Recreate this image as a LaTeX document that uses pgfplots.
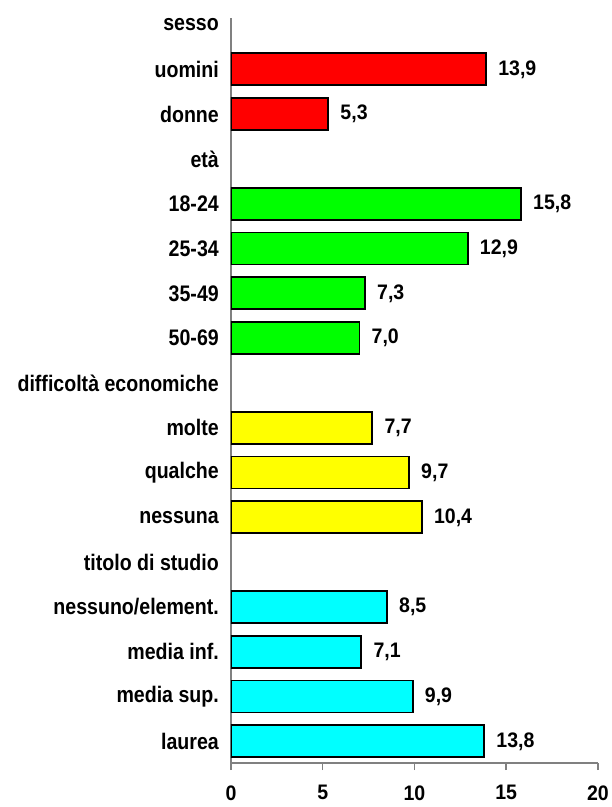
\documentclass[border=0pt]{standalone}
\usepackage{fontspec}
\setmainfont{Liberation Sans}
\newfontfamily\catfont{Liberation Sans}[FakeStretch=0.87]
\newfontfamily\numfont{Liberation Sans}[FakeStretch=0.93]
\usepackage{pgfplots}
\pgfplotsset{compat=1.18}
\definecolor{axgray}{RGB}{128,128,128}
\definecolor{cred}{RGB}{255,0,0}
\definecolor{cgreen}{RGB}{0,255,0}
\definecolor{cyellow}{RGB}{255,255,0}
\definecolor{ccyan}{RGB}{0,255,255}
\begin{document}
\begin{tikzpicture}
\begin{axis}[
  name=ax,
  scale only axis, width=367pt, height=745pt,
  xmin=0, xmax=20, ymin=-0.484, ymax=16.145,
  axis lines*=left,
  axis line style={draw=axgray, line width=1.5pt},
  xtick={0,5,10,15,20},
  tick align=outside,
  major tick length=7pt,
  xtick style={draw=axgray, line width=1.5pt},
  ytick={0,...,16},
  ytick style={draw=none},
  yticklabels={laurea, media sup., media inf., nessuno/element., titolo di studio, nessuna, qualche~, molte, difficoltà economiche, 50-69, 35-49, 25-34, 18-24, età, donne, uomini, sesso},
  yticklabel style={font=\catfont\bfseries\fontsize{22.5}{25}\selectfont, inner sep=0pt, xshift=-5pt},
  xticklabel style={font=\numfont\bfseries\fontsize{21}{23}\selectfont, yshift=-12pt},
  /pgf/number format/assume math mode=true,
  xbar, bar width=0.714,
  nodes near coords,
  nodes near coords style={font=\numfont\bfseries\fontsize{21}{23}\selectfont, black, anchor=west, xshift=8pt,
    /pgf/number format/.cd, fixed, fixed zerofill, precision=1, use comma},
  every axis plot/.append style={draw=black, line width=1.8pt},
]
\addplot[fill=cred, bar shift=0pt] coordinates {(13.9,15) (5.3,14)};
\addplot[fill=cgreen, bar shift=0pt] coordinates {(15.8,12) (12.9,11) (7.3,10) (7.0,9)};
\addplot[fill=cyellow, bar shift=0pt] coordinates {(7.7,7) (9.7,6) (10.4,5)};
\addplot[fill=ccyan, bar shift=0pt] coordinates {(8.5,3) (7.1,2) (9.9,1) (13.8,0)};
\end{axis}
\pgfresetboundingbox
\path ([shift={(-231pt,-44pt)}]ax.south west) rectangle ([shift={(381pt,763pt)}]ax.south west);
\end{tikzpicture}
\end{document}
